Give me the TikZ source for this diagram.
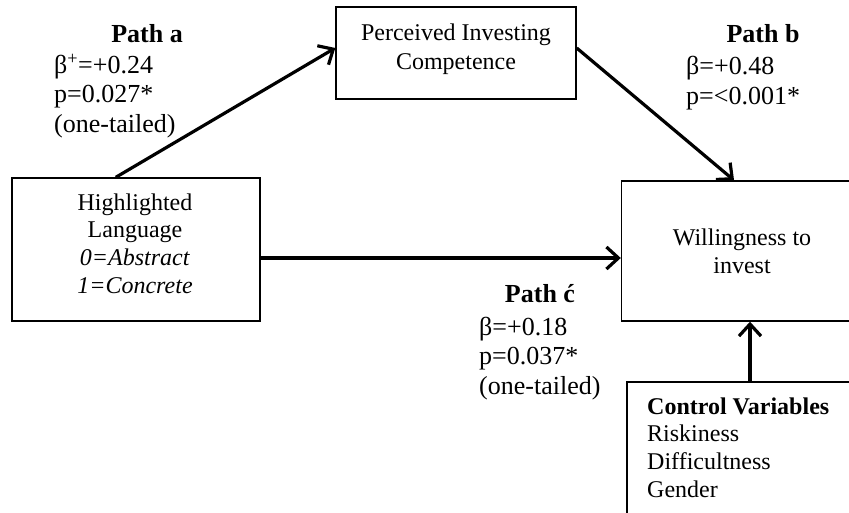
\documentclass[tikz,border=0pt]{standalone}
\usepackage{fontspec}
\setmainfont{Liberation Serif}
\usetikzlibrary{arrows.meta,calc}
\begin{document}
\begin{tikzpicture}[x=1pt,y=-1pt,
  box/.style={draw, line width=1.4pt, inner sep=0pt},
  boxtext/.style={align=center, inner sep=0pt, anchor=north},
  lbl/.style={inner sep=0pt, font=\fontsize{26}{29.5}\selectfont},
  lblbody/.style={lbl, align=left, anchor=north west},
  conn/.style={line width=3.2pt, -{Straight Barb[length=12pt,width=22pt,line width=3.2pt]}}]
\useasboundingbox (0,0) rectangle (849,512);
\clip (0,0) rectangle (849,512);
% boxes
\node[box, minimum width=248pt, minimum height=143pt] (hl) at (136,249.5) {};
\node[box, minimum width=240pt, minimum height=92pt] (pic) at (456,53) {};
\node[box, minimum width=238.5pt, minimum height=140pt] (wil) at (740.75,251) {};
\node[box, minimum width=233pt, minimum height=148pt] (ctrl) at (743.5,456) {};
% box texts
\node[boxtext, font=\fontsize{24}{27.7}\selectfont] (hlt) at (135,192) {\rule{0pt}{18pt}Highlighted\\Language\\\textit{0=Abstract}\\\textit{1=Concrete}};
\node[boxtext, font=\fontsize{24}{29}\selectfont] (pict) at (456,22) {\rule{0pt}{18pt}Perceived Investing\\Competence};
\node[boxtext, font=\fontsize{24}{28}\selectfont] (wilt) at (742,227) {\rule{0pt}{18pt}Willingness to\\invest};
\node[inner sep=0pt, align=left, anchor=north west, font=\fontsize{24}{27.7}\selectfont] (ctrlt) at (647,396) {\rule{0pt}{18pt}\textbf{Control Variables}\\Riskiness\\Difficultness\\Gender};
% connectors
\draw[conn] ($(hl.north west)!0.419!(hl.north east)$) -- ($(pic.north west)!0.446!(pic.south west)$);
\draw[conn] ([yshift=5pt]pic.east) -- ($(wil.north west)!0.472!(wil.north east)$);
\draw[conn] ([yshift=-8.5pt]hl.east) -- ([yshift=-8.5pt]hl.east -| wil.west);
\draw[conn] ([xshift=6.5pt]ctrl.north) -- ([xshift=6.5pt]ctrl.north |- wil.south);
% labels
\node[lbl, anchor=base] (pa) at (147,42) {\textbf{Path a}};
\node[lblbody] (pab) at (54,53.5) {\rule{0pt}{19.5pt}β\textsuperscript{+}=+0.24\\p=0.027*\\(one-tailed)};
\node[lbl, anchor=base] (pb) at (763,42) {\textbf{Path b}};
\node[lblbody, font=\fontsize{26}{30}\selectfont] (pbb) at (686,54.5) {\rule{0pt}{19.5pt}β=+0.48\\p=<0.001*};
\node[lbl, anchor=base] (pc) at (540,302) {\textbf{Path ć}};
\node[lblbody] (pcb) at (479,315.5) {\rule{0pt}{19.5pt}β=+0.18\\p=0.037*\\(one-tailed)};
\end{tikzpicture}
\end{document}
